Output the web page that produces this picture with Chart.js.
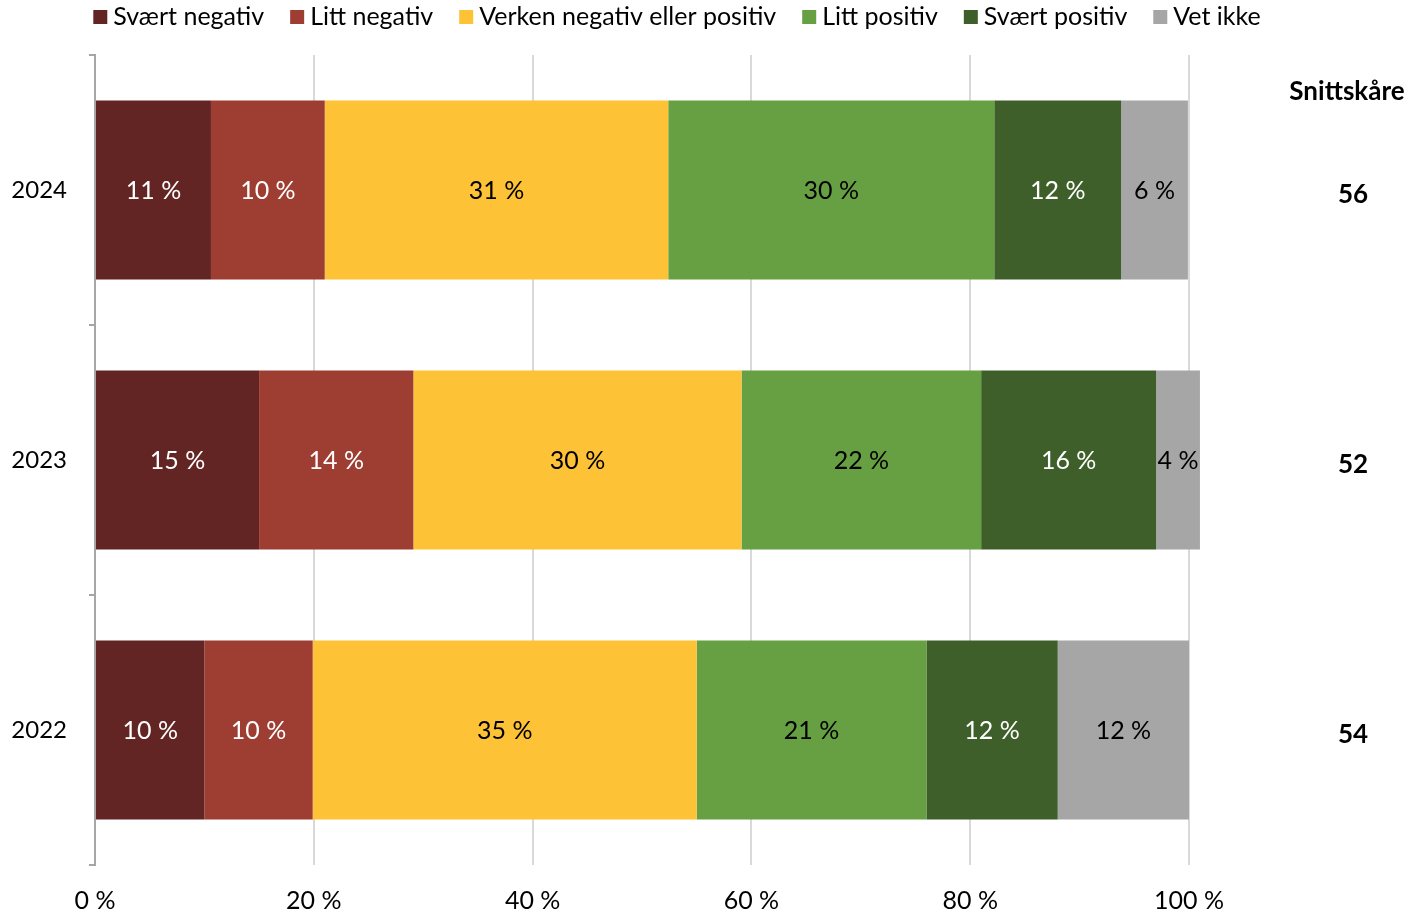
<!DOCTYPE html>
<html>
<head>
<meta charset="utf-8">
<script src="https://cdn.jsdelivr.net/npm/chart.js@4"></script>
<style>
  html, body { margin: 0; padding: 0; background: #fff; }
  #wrap { width: 1411px; height: 913px; }
</style>
</head>
<body>
<div id="wrap"><canvas id="chart"></canvas></div>
<script>
let years = ["2024", "2023", "2022"];
let seriesNames = ["Svært negativ", "Litt negativ", "Verken negativ eller positiv", "Litt positiv", "Svært positiv", "Vet ikke"];
let seriesColors = ["#632523", "#9E3D32", "#FDC236", "#67A043", "#3E5F29", "#A6A6A6"];
let labelColors = ["#fff", "#fff", "#000", "#000", "#fff", "#000"];

// one array per answer, values for 2024, 2023, 2022
let sværtNegativ = [10.6, 15.0, 10.0];
let littNegativ = [10.4, 14.1, 9.9];
let verken = [31.4, 30.0, 35.1];
let littPositiv = [29.8, 21.9, 21.0];
let sværtPositiv = [11.6, 16.0, 12.0];
let vetIkke = [6.1, 4.0, 12.0];

let snittskare = [56, 52, 54];
let xTicks = [0, 20, 40, 60, 80, 100];

let font = "Lato";

let seriesValues = [sværtNegativ, littNegativ, verken, littPositiv, sværtPositiv, vetIkke];

let datasets = seriesValues.map((values, i) => ({
    label: seriesNames[i],
    data: values,
    backgroundColor: seriesColors[i],
    borderWidth: 0,
    barPercentage: 0.663,
    categoryPercentage: 1,
    clip: false,
}));

// draws value labels in each segment
let segmentLabels = {
    id: 'segmentLabels',
    afterDatasetsDraw: function(chart) {
        let ctx = chart.ctx;
        ctx.save();
        ctx.font = "25px " + font;
        ctx.textAlign = "center";
        ctx.textBaseline = "middle";
        chart.data.datasets.forEach((ds, i) => {
            let meta = chart.getDatasetMeta(i);
            meta.data.forEach((bar, j) => {
                let x = (bar.x + bar.base) / 2;
                ctx.fillStyle = labelColors[i];
                ctx.fillText(Math.round(ds.data[j]) + " %", x, bar.y + 1);
            });
        });
        ctx.restore();
    }
}

// legend row on top, plus the Snittskåre column on the right
let extras = {
    id: 'extras',
    afterDraw: function(chart) {
        let ctx = chart.ctx;
        let area = chart.chartArea;
        ctx.save();

        ctx.font = "25px " + font;
        ctx.textBaseline = "middle";
        let box = 14, gapBox = 6, gapItem = 26;
        let widths = seriesNames.map(n => box + gapBox + ctx.measureText(n).width);
        let total = widths.reduce((a, b) => a + b) + gapItem * (widths.length - 1);
        let x = 677 - total / 2;
        seriesNames.forEach((name, i) => {
            ctx.fillStyle = seriesColors[i];
            ctx.fillRect(x, 10, box, box);
            ctx.fillStyle = "#000";
            ctx.textAlign = "left";
            ctx.fillText(name, x + box + gapBox, 17);
            x += widths[i] + gapItem;
        });

        ctx.font = "bold 26px " + font;
        ctx.textAlign = "center";
        ctx.fillStyle = "#000";
        ctx.fillText("Snittskåre", area.right + 158, 92);
        let yScale = chart.scales.y;
        snittskare.forEach((v, i) => {
            ctx.fillText(String(v), area.right + 164, yScale.getPixelForValue(i) + 5);
        });
        ctx.restore();
    }
}

let ctx = document.getElementById('chart');
let chart = new Chart(ctx, {
    type: 'bar',
    data: {
        labels: years,
        datasets: datasets
    },
    options: {
        indexAxis: 'y',
        responsive: true,
        maintainAspectRatio: false,
        animation: false,
        layout: {
            padding: { top: 55, right: 222, left: 0, bottom: 0 }
        },
        plugins: {
            legend: { display: false },
            tooltip: { enabled: false },
        },
        scales: {
            x: {
                stacked: true,
                min: 0,
                max: 100,
                afterBuildTicks: function(scale) {
                    scale.ticks = xTicks.map(v => ({ value: v }));
                },
                afterFit: function(scale) { scale.height = 48; },
                grid: {
                    color: "#D9D9D9",
                    lineWidth: 2,
                    drawTicks: false,
                },
                border: { display: false },
                ticks: {
                    padding: 21,
                    color: "#000",
                    font: { family: font, size: 25 },
                    callback: v => v + " %",
                },
            },
            y: {
                stacked: true,
                afterFit: function(scale) { scale.width = 95; },
                grid: {
                    drawOnChartArea: false,
                    drawTicks: true,
                    tickLength: 6,
                    color: "#A6A6A6",
                    lineWidth: 2,
                },
                border: { display: true, color: "#A6A6A6", width: 2 },
                ticks: {
                    padding: 22,
                    color: "#000",
                    font: { family: font, size: 24 },
                },
            }
        }
    },
    plugins: [segmentLabels, extras]
});
</script>
</body>
</html>
